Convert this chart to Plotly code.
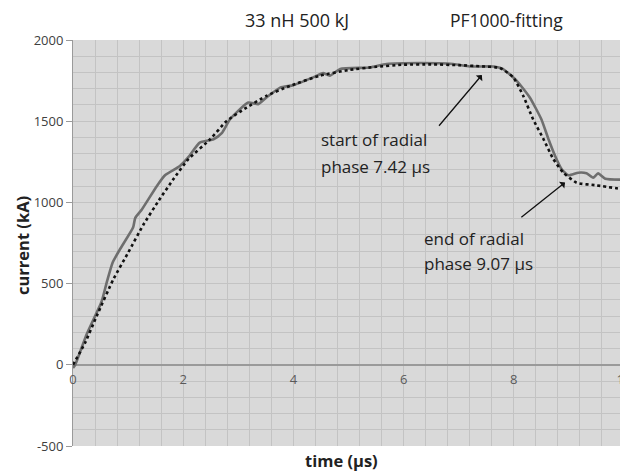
import plotly.graph_objects as go

# measured current (solid grey)
t_meas = [0.0, 0.04, 0.25, 0.52, 0.61, 0.72, 0.85, 1.09, 1.13, 1.25, 1.52, 1.67, 1.94, 2.09,
          2.3, 2.55, 2.7, 2.85, 3.18, 3.36, 3.51, 3.76, 4.0, 4.36, 4.54, 4.66, 4.85, 5.39,
          5.69, 6.3, 6.9, 7.2, 7.63, 7.8, 8.05, 8.29, 8.5, 8.63, 8.75, 8.87, 8.99, 9.17,
          9.32, 9.44, 9.53, 9.66, 10.0]
i_meas = [-20, 0, 190, 390, 505, 630, 710, 845, 905, 957, 1100, 1167, 1224, 1277,
          1368, 1389, 1426, 1512, 1615, 1605, 1646, 1707, 1722, 1770, 1796, 1780, 1821, 1831,
          1852, 1858, 1852, 1837, 1837, 1822, 1750, 1646, 1512, 1389, 1286, 1204, 1167, 1183,
          1179, 1152, 1179, 1146, 1140]

# fitted current (dotted black)
t_fit = [0.0, 0.22, 0.43, 0.73, 1.0, 1.28, 1.55, 1.82, 2.09, 2.49, 2.79, 3.15, 3.51, 3.94,
         4.48, 5.0, 5.5, 6.0, 6.5, 7.0, 7.4, 7.75, 7.99, 8.17, 8.35, 8.54, 8.72, 8.9, 9.14,
         9.5, 10.0]
i_fit = [0, 136, 300, 525, 690, 864, 1008, 1142, 1265, 1389, 1502, 1584, 1656, 1718,
         1780, 1815, 1835, 1848, 1850, 1845, 1838, 1828, 1770, 1657, 1512, 1389, 1265, 1183, 1121,
         1105, 1080]

x_ticks = [0, 2, 4, 6, 8, 10]
y_ticks = [-500, 0, 500, 1000, 1500, 2000]

FONT = "Open Sans"
TXT = "#222222"

fig = go.Figure()
fig.add_trace(go.Scatter(x=t_meas, y=i_meas, mode="lines",
                         line=dict(color="#6e6e6e", width=2.6, shape="spline", smoothing=0.5),
                         showlegend=False))
fig.add_trace(go.Scatter(x=t_fit, y=i_fit, mode="lines",
                         line=dict(color="#111111", width=2.6, dash="dot", shape="spline", smoothing=0.5),
                         showlegend=False))

# page body has an 8px default margin, so the figure is sized to compensate
fig.update_layout(
    width=620, height=464,
    margin=dict(l=65, r=4, t=32, b=26, autoexpand=False),
    paper_bgcolor="white", plot_bgcolor="#d9d9d9",
    font=dict(family=FONT, size=13, color="#404040"),
    xaxis=dict(range=[0, 10], tickvals=x_ticks, ticktext=[str(v) for v in x_ticks],
               showgrid=True, gridcolor="#c3c3c3", gridwidth=1,
               minor=dict(dtick=0.4, tick0=0, showgrid=True, gridcolor="#c3c3c3", gridwidth=1),
               zeroline=False, showline=False, anchor="free", position=0.2, automargin=False,
               ticks="", tickfont=dict(size=13, color="#595959"), ticklabelstandoff=5,
               ticklabeloverflow="allow"),
    yaxis=dict(range=[-500, 2000], tickvals=y_ticks, ticktext=[str(v) for v in y_ticks],
               showgrid=True, gridcolor="#c3c3c3", gridwidth=1, automargin=False,
               minor=dict(dtick=100, showgrid=True, gridcolor="#c3c3c3", gridwidth=1),
               zeroline=True, zerolinecolor="#9a9a9a", zerolinewidth=1.5,
               showline=True, linecolor="#9a9a9a", linewidth=1,
               ticks="outside", ticklen=6, tickcolor="#9a9a9a",
               tickfont=dict(size=13, color="#404040")),
)

ann = []
ann.append(dict(text="33 nH 500 kJ", xref="x", yref="paper", x=4.06, y=1.049,
                showarrow=False, font=dict(size=18, color=TXT), xanchor="center", yanchor="middle"))
ann.append(dict(text="PF1000-fitting", xref="x", yref="paper", x=7.87, y=1.049,
                showarrow=False, font=dict(size=17.5, color=TXT), xanchor="center", yanchor="middle"))
ann.append(dict(text="<b>time (μs)</b>", xref="x", yref="paper", x=4.88, y=-0.036,
                showarrow=False, font=dict(size=16.5, color=TXT), xanchor="center", yanchor="middle"))
ann.append(dict(text="<b>current (kA)</b>", xref="paper", yref="paper", x=-0.0926, y=0.495,
                textangle=-90, showarrow=False, font=dict(size=16.5, color=TXT),
                xanchor="center", yanchor="middle"))
# text labels
for txt, xx, yy in [("start of radial", 4.46, 1390), ("phase 7.42 μs", 4.46, 1222),
                    ("end of radial", 6.33, 778), ("phase 9.07 μs", 6.33, 623)]:
    ann.append(dict(text=txt, xref="x", yref="y", x=xx, y=yy, showarrow=False,
                    xanchor="left", yanchor="middle", font=dict(size=17, color=TXT)))
# arrows
ann.append(dict(text="", xref="x", yref="y", x=7.42, y=1784, axref="x", ayref="y", ax=6.62, ay=1463,
                showarrow=True, arrowhead=1, arrowsize=1.1, arrowwidth=1.3, arrowcolor="#111111"))
ann.append(dict(text="", xref="x", yref="y", x=8.93, y=1123, axref="x", ayref="y", ax=8.11, ay=901,
                showarrow=True, arrowhead=1, arrowsize=1.1, arrowwidth=1.3, arrowcolor="#111111"))
fig.update_layout(annotations=ann)

fig.write_html("out.html")
